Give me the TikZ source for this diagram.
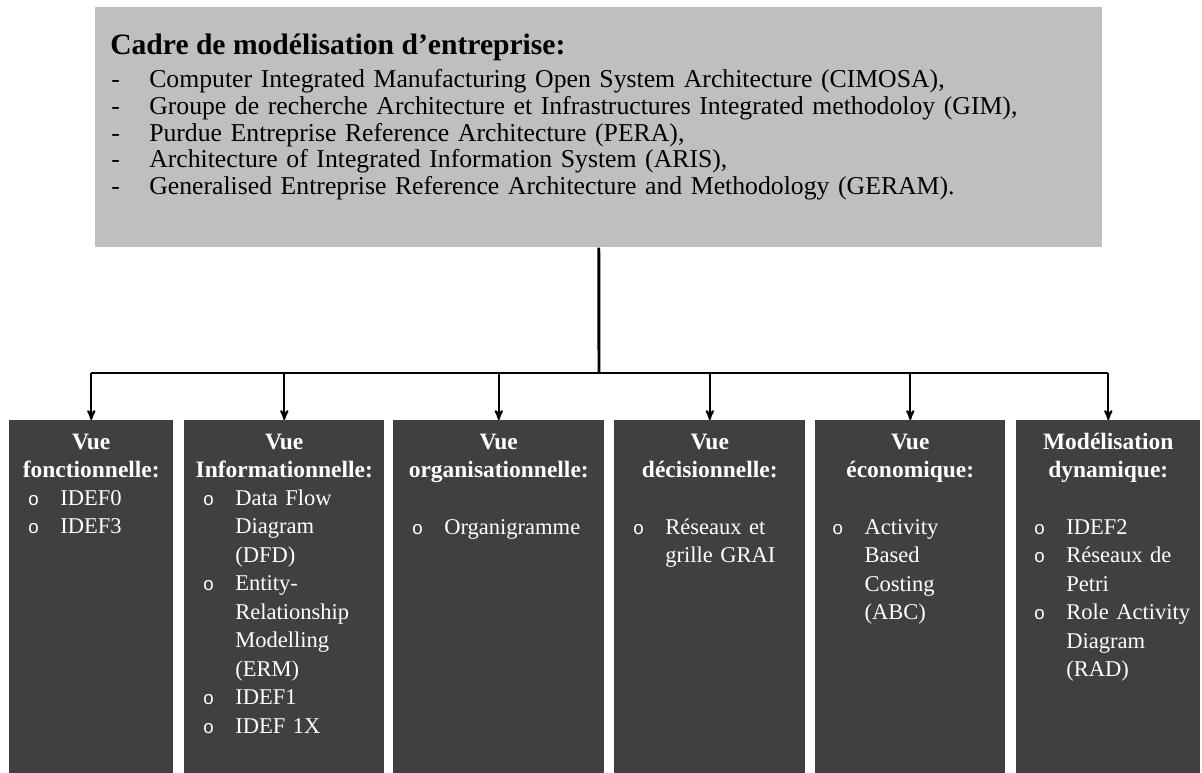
\documentclass[tikz,border=0pt]{standalone}
\usepackage{fontspec}
\setmainfont{Liberation Serif}
\newfontfamily\pucefont{Liberation Sans}
\usetikzlibrary{arrows}

\definecolor{cadregris}{RGB}{191,191,191}
\definecolor{vuefond}{RGB}{64,64,64}
\newcommand{\tiret}{\makebox[28.5pt][l]{-}}
\newcommand{\puce}{\makebox[24pt][l]{\pucefont\fontsize{14}{14}\selectfont o}}
\newcommand{\retrait}{\hspace*{24pt}}

\begin{document}
\begin{tikzpicture}[
    x = 0.75pt,
    y = -0.75pt,
    >=stealth',
    cadre/.style = {
      fill = cadregris,
      anchor = north west,
      inner sep = 0pt,
      minimum width = 755.25pt,
      minimum height = 180pt
    },
    vue/.style = {
      fill = vuefond,
      anchor = north west,
      inner sep = 0pt,
      minimum height = 264.75pt
    },
    vuetitre/.style = {
      anchor = base,
      inner sep = 0pt,
      align = center,
      text = white,
      font = \bfseries\fontsize{17.6}{21}\selectfont
    },
    vueliste/.style = {
      anchor = base west,
      inner sep = 0pt,
      align = left,
      text = white,
      font = \fontsize{16.9}{21.4}\selectfont
    },
    tronc/.style = {line width = 2.2pt},
    fleche/.style = {->, line width = 1.5pt}
  ]
  \useasboundingbox (0,0) rectangle (1202,773);

  % cadre de modelisation
  \node[cadre] (cadre) at (95,7) {};
  \node[anchor = base west, inner sep = 0pt,
    font = \bfseries\fontsize{22.2}{24}\selectfont] (cadre-titre) at (110,55)
    {Cadre de modélisation d’entreprise:};
  \node[anchor = base west, inner sep = 0pt, align = left, text width = 740pt,
    font = \fontsize{19.3}{19.9}\selectfont] (cadre-liste) at (111,88)
    {\tiret Computer Integrated Manufacturing Open System Architecture (CIMOSA),\\
     \tiret Groupe de recherche Architecture et Infrastructures Integrated methodoloy (GIM),\\
     \tiret Purdue Entreprise Reference Architecture (PERA),\\
     \tiret Architecture of Integrated Information System (ARIS),\\
     \tiret Generalised Entreprise Reference Architecture and Methodology (GERAM).};

  % les vues
  \node[vue, minimum width = 123pt]    (fonc) at (9,420) {};
  \node[vue, minimum width = 150pt]    (info) at (184,420) {};
  \node[vue, minimum width = 158.25pt] (orga) at (393,420) {};
  \node[vue, minimum width = 143.25pt] (deci) at (614,420) {};
  \node[vue, minimum width = 142.5pt]  (econ) at (815,420) {};
  \node[vue, minimum width = 138pt]    (dyna) at (1016,420) {};

  \node[vuetitre, text width = 123pt] (fonc-titre) at ([yshift = -21.75pt]fonc.north)
    {Vue\\fonctionnelle:};
  \node[vuetitre, text width = 150pt] (info-titre) at ([yshift = -21.75pt]info.north)
    {Vue\\Informationnelle:};
  \node[vuetitre, text width = 158.25pt] (orga-titre) at ([yshift = -21.75pt]orga.north)
    {Vue\\organisationnelle:};
  \node[vuetitre, text width = 143.25pt] (deci-titre) at ([yshift = -21.75pt]deci.north)
    {Vue\\décisionnelle:};
  \node[vuetitre, text width = 142.5pt] (econ-titre) at ([yshift = -21.75pt]econ.north)
    {Vue\\économique:};
  \node[vuetitre, text width = 138pt] (dyna-titre) at ([yshift = -21.75pt]dyna.north)
    {Modélisation\\dynamique:};

  \node[vueliste, text width = 120pt] (fonc-liste)
    at ([xshift = 14.25pt, yshift = -63.75pt]fonc.north west)
    {\puce IDEF0\\ \puce IDEF3};
  \node[vueliste, text width = 140pt] (info-liste)
    at ([xshift = 14.25pt, yshift = -63.75pt]info.north west)
    {\puce Data Flow\\ \retrait Diagram\\ \retrait (DFD)\\ \puce Entity-\\
     \retrait Relationship\\ \retrait Modelling\\ \retrait (ERM)\\ \puce IDEF1\\
     \puce IDEF 1X};
  \node[vueliste, text width = 140pt] (orga-liste)
    at ([xshift = 14.25pt, yshift = -85.5pt]orga.north west)
    {\puce Organigramme};
  \node[vueliste, text width = 130pt] (deci-liste)
    at ([xshift = 14.25pt, yshift = -85.5pt]deci.north west)
    {\puce Réseaux et\\ \retrait grille GRAI};
  \node[vueliste, text width = 130pt] (econ-liste)
    at ([xshift = 13pt, yshift = -85.5pt]econ.north west)
    {\puce Activity\\ \retrait Based\\ \retrait Costing\\ \retrait (ABC)};
  \node[vueliste, text width = 130pt] (dyna-liste)
    at ([xshift = 13.5pt, yshift = -85.5pt]dyna.north west)
    {\puce IDEF2\\ \puce Réseaux de\\ \retrait Petri\\ \puce Role Activity\\
     \retrait Diagram\\ \retrait (RAD)};

  % connecteurs
  \coordinate (bus) at (599,373);
  \draw[tronc] (cadre.south) -- (bus);
  \draw[tronc] (fonc.north |- bus) -- (dyna.north |- bus);
  \draw[fleche] (fonc.north |- bus) -- (fonc.north);
  \draw[fleche] (info.north |- bus) -- (info.north);
  \draw[fleche] (orga.north |- bus) -- (orga.north);
  \draw[fleche] (deci.north |- bus) -- (deci.north);
  \draw[fleche] (econ.north |- bus) -- (econ.north);
  \draw[fleche] (dyna.north |- bus) -- (dyna.north);
\end{tikzpicture}
\end{document}
